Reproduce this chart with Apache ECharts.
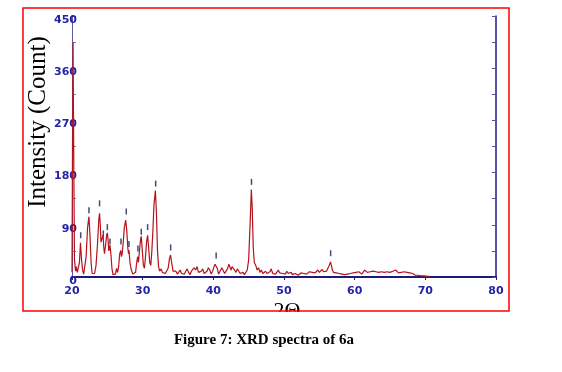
<!DOCTYPE html>
<html><head><meta charset="utf-8">
<script src="https://cdn.jsdelivr.net/npm/echarts@6/dist/echarts.min.js"></script>
<style>html,body{margin:0;padding:0;background:#fff}#c{width:562px;height:372px}</style>
</head><body><div id="c"></div>
<script>
// 2θ (deg), intensity (count)
const xrdPoints = [
[20.0,8],[20.1,300],[20.15,405],[20.25,200],[20.35,30],[20.5,10],[20.6,18],[20.75,8],[20.9,5],
[21.05,25],[21.2,59],[21.35,30],[21.5,12],[21.65,5],[21.8,8],[22.0,35],[22.2,85],[22.4,104],
[22.55,70],[22.7,25],[22.85,6],[23.0,3],[23.2,6],[23.4,20],[23.6,55],[23.8,100],[23.9,110],
[24.0,90],[24.1,60],[24.25,62],[24.4,72],[24.5,50],[24.6,40],[24.75,55],[24.9,72],[25.0,76],
[25.1,65],[25.2,45],[25.3,50],[25.37,55],[25.5,40],[25.65,15],[25.8,4],[26.0,2],[26.15,5],
[26.3,15],[26.45,8],[26.6,18],[26.75,40],[26.9,46],[27.0,35],[27.1,40],[27.25,60],[27.4,85],
[27.6,98],[27.75,80],[27.9,50],[28.0,40],[28.07,46],[28.2,25],[28.4,12],[28.6,5],[28.8,3],
[29.0,8],[29.15,25],[29.3,35],[29.4,25],[29.55,45],[29.7,65],[29.8,70],[29.95,45],[30.1,20],
[30.25,15],[30.4,35],[30.55,60],[30.7,72],[30.85,50],[31.0,25],[31.15,20],[31.3,45],[31.45,80],
[31.6,125],[31.8,149],[31.95,110],[32.1,45],[32.25,18],[32.4,10],[32.6,14],[32.8,8],[33.0,10],
[33.2,6],[33.4,8],[33.6,15],[33.8,32],[33.95,38],[34.1,25],[34.3,10],[34.5,7],[34.7,10],
[34.9,5],[35.1,8],[35.3,12],[35.5,6],[35.7,9],[35.9,5],[36.1,10],[36.3,14],[36.5,8],[36.7,4],
[36.9,10],[37.1,12],[37.3,16],[37.5,12],[37.7,18],[37.9,8],[38.1,5],[38.3,10],[38.5,14],
[38.7,6],[38.9,4],[39.1,10],[39.3,16],[39.5,12],[39.7,5],[39.9,10],[40.1,18],[40.25,22],
[40.4,24],[40.55,15],[40.75,5],[41.0,8],[41.2,16],[41.4,15],[41.6,6],[41.8,4],[42.0,14],
[42.2,22],[42.35,20],[42.5,12],[42.65,18],[42.8,20],[43.0,12],[43.2,8],[43.4,14],[43.6,10],
[43.8,6],[44.0,5],[44.2,8],[44.4,4],[44.6,6],[44.8,12],[45.0,30],[45.2,90],[45.38,151],
[45.5,120],[45.65,50],[45.8,25],[46.0,20],[46.2,12],[46.4,16],[46.6,8],[46.8,12],[47.0,6],
[47.2,5],[47.4,10],[47.6,6],[47.8,4],[48.0,9],[48.2,14],[48.4,6],[48.6,4],[48.8,5],[49.0,8],
[49.2,12],[49.4,7],[49.6,4],[49.8,6],[50.0,3],[50.2,5],[50.4,10],[50.6,6],[50.8,5],[51.0,8],
[51.2,4],[51.4,3],[51.6,6],[51.8,4],[52.0,3],[52.2,5],[52.4,7],[52.6,4],[52.8,6],[53.0,8],
[53.2,5],[53.4,7],[53.6,9],[53.8,6],[54.0,8],[54.2,10],[54.4,7],[54.6,9],[54.8,12],[55.0,8],
[55.2,10],[55.4,13],[55.6,9],[55.8,11],[56.0,10],[56.2,12],[56.4,20],[56.58,26],[56.7,20],
[56.85,12],[57.0,8],[57.2,10],[57.4,7],[57.6,9],[57.8,6],[58.0,8],[58.2,5],[58.4,7],[58.6,4],
[58.8,6],[59.0,5],[59.2,8],[59.4,6],[59.6,9],[59.8,7],[60.0,10],[60.2,8],[60.4,6],[60.6,9],
[60.8,7],[61.0,5],[61.2,8],[61.4,12],[61.6,10],[61.8,8],[62.0,11],[62.2,9],[62.4,7],[62.6,10],
[62.8,8],[63.0,9],[63.2,6],[63.4,8],[63.6,7],[63.8,9],[64.0,6],[64.2,8],[64.4,7],[64.6,9],
[64.8,6],[65.0,8],[65.2,7],[65.4,10],[65.6,8],[65.8,12],[66.0,9],[66.2,7],[66.4,10],[66.6,8],
[66.8,6],[67.0,9],[67.2,7],[67.4,8],[67.6,5],[67.8,7],[68.0,4],[68.2,6],[68.4,5],[68.6,3],
[68.8,5],[69.0,3],[69.2,4],[69.4,2],[69.6,3],[69.8,2],[70.0,3],[70.3,1],[70.6,1]
];
// peak marker positions (2θ) and marker heights (count)
const peakPos  = [21.23,22.4,23.9,24.43,25.0,25.37,26.93,27.68,28.06,29.33,29.8,30.7,31.84,33.96,40.4,45.4,56.6];
const peakMark = [72,115,127,75,86,61,61,113,57,49,78,86,161,51,37,164,41];
const xTicks = {min:20,max:80,interval:10};
const yTicks = {min:0,max:450,interval:90};

const navy = '#1c1c78';
const lblBlue = '#2323a8';
const chart = echarts.init(document.getElementById('c'), null, {renderer:'canvas'});
chart.setOption({
  animation:false,
  backgroundColor:'#ffffff',
  grid:{left:72,right:66,top:16,bottom:95},
  xAxis:[
    {type:'value',min:xTicks.min,max:xTicks.max,interval:xTicks.interval,position:'bottom',
     axisLine:{lineStyle:{color:navy,width:2}},axisTick:{show:false},splitLine:{show:false},
     axisLabel:{color:lblBlue,fontFamily:'DejaVu Sans',fontWeight:'bold',fontSize:11,margin:9}},
    {type:'value',min:xTicks.min,max:xTicks.max,interval:xTicks.interval,position:'top',
     axisLine:{lineStyle:{color:navy,width:1.5}},axisTick:{inside:true,length:3,lineStyle:{color:navy}},
     axisLabel:{show:false},splitLine:{show:false}}
  ],
  yAxis:[
    {type:'value',min:yTicks.min,max:yTicks.max,interval:yTicks.interval,position:'left',
     axisLine:{show:true,lineStyle:{color:'#5a5aa6',width:1}},
     axisTick:{show:true,inside:true,length:4,lineStyle:{color:'#7a3050'}},
     minorTick:{show:true,splitNumber:2,length:4,lineStyle:{color:'#8080b0'}},
     splitLine:{show:false},
     axisLabel:{color:lblBlue,fontFamily:'DejaVu Sans',fontWeight:'bold',fontSize:11,margin:-5,
                verticalAlign:'top',lineHeight:8}},
    {type:'value',min:0,max:450,interval:45,position:'right',
     axisLine:{show:true,lineStyle:{color:navy,width:1.5}},
     axisTick:{show:true,inside:true,length:4,lineStyle:{color:'#50508a'}},
     axisLabel:{show:false},splitLine:{show:false}}
  ],
  series:[
    {type:'line',data:xrdPoints,showSymbol:false,symbol:'none',
     lineStyle:{color:'#b5121b',width:1.2},z:3},
    {type:'scatter',data:peakPos.map((p,i)=>[p,peakMark[i]]),symbol:'rect',symbolSize:[1.5,6],
     itemStyle:{color:'#1a1a5a'},z:4}
  ],
  graphic:[
    {type:'text',x:38,y:122,rotation:Math.PI/2,
     style:{text:'Intensity (Count)',font:'25px "Liberation Serif"',fill:'#000',align:'center',verticalAlign:'middle'}},
    {type:'text',x:287,y:300,
     style:{text:'2Θ',font:'22px "Liberation Serif"',fill:'#000',align:'center',verticalAlign:'top'},z:5},
    {type:'rect',shape:{x:0,y:312,width:562,height:18},style:{fill:'#fff'},z:6},
    {type:'rect',shape:{x:23,y:8,width:486,height:303},style:{fill:null,stroke:'#ff0000',lineWidth:1.5},z:7},
    {type:'text',x:264,y:340,
     style:{text:'Figure 7: XRD spectra of 6a',font:'bold 15px "Liberation Serif"',fill:'#000',align:'center',verticalAlign:'middle'},z:8}
  ]
});
</script></body></html>
